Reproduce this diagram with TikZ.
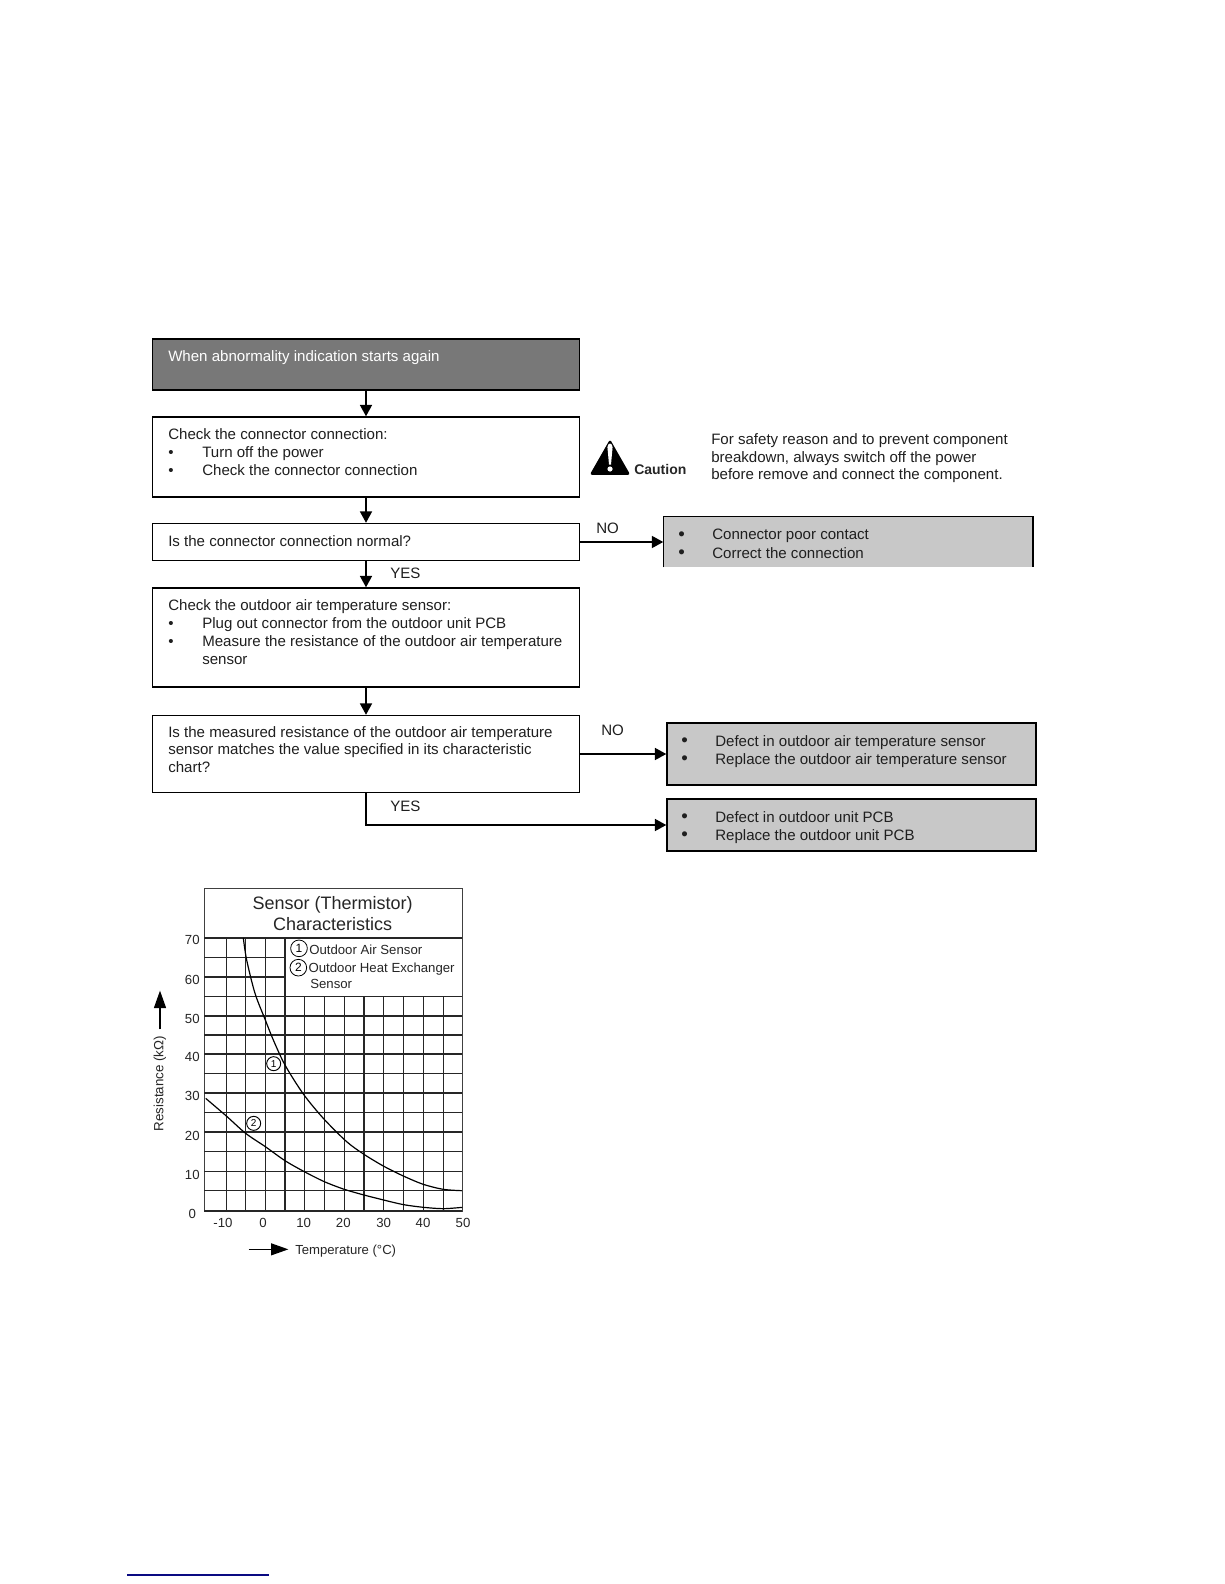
\documentclass[tikz,border=0pt]{standalone}
\usepackage{fontspec}
\setmainfont{Liberation Sans}
\usetikzlibrary{arrows.meta}
\newcommand{\bitem}[1]{\makebox[25.5pt][l]{\textbullet}#1}
\newcommand{\gitem}[1]{\makebox[25.5pt][l]{\fontsize{14}{13}\selectfont\raisebox{-0.6pt}{\textbullet}}#1}
\tikzset{
  boxline/.style={draw=black,line width=1.1pt,minimum width=#1*0.75pt,inner sep=0pt},
  whitebox/.style={boxline=427,fill=white},
  darkbox/.style={boxline=427,fill=boxdark},
  greybox/.style={boxline=369,fill=boxgrey},
  flowtext/.style={anchor=north west,inner sep=0pt,align=left,font=\fontsize{11.3}{13.5}\selectfont,text=black!88},
  flowarrow/.style={line width=1.15pt,-{Triangle[length=8.5pt,width=9pt]}},
  gridline/.style={line width=1.1pt,black!85},
  curve/.style={line width=0.9pt,black},
  charttext/.style={inner sep=0pt,font=\fontsize{9.9}{12}\selectfont,text=black!85},
  marker/.style={draw,circle,line width=0.6pt,inner sep=0pt,minimum size=#1,font=\fontsize{7.5}{9}\selectfont},
}
\definecolor{boxdark}{HTML}{787878}
\definecolor{boxgrey}{HTML}{C8C8C8}
\definecolor{navyline}{RGB}{10,10,130}
\begin{document}
\begin{tikzpicture}[x=0.75pt,y=-0.75pt]
\useasboundingbox (0,0) rectangle (1224,1584);
\fill[white] (0,0) rectangle (1224,1584);

% boxes
\node[darkbox,minimum height=38.25pt] (b1) at (366,364.5) {};
\node[whitebox,minimum height=60pt] (b2) at (366,457) {};
\node[whitebox,minimum height=27.75pt] (b3) at (366,542) {};
\node[whitebox,minimum height=74.25pt] (b4) at (366,637.5) {};
\node[whitebox,minimum height=57.75pt] (b5) at (366,754) {};
\node[fill=boxgrey,inner sep=0pt,minimum width=276.75pt,minimum height=37.5pt] (g1) at (848,542) {};
\draw[line width=1.1pt] (g1.south west) |- (g1.north east) -- (g1.south east);
\node[greybox,minimum height=46.5pt] (g2) at (851.5,754) {};
\node[greybox,minimum height=39pt] (g3) at (851.5,825) {};

% box texts
\node[flowtext,text=white] (t1) at (168,350) {When abnormality indication starts again};
\node[flowtext,font=\fontsize{11.3}{13.7}\selectfont] (t2) at (168,428) {Check the connector connection:\\\bitem{Turn off the power}\\\bitem{Check the connector connection}};
\node[flowtext] (t3) at (168,535) {Is the connector connection normal?};
\node[flowtext] (t4) at (168,599) {Check the outdoor air temperature sensor:\\\bitem{Plug out connector from the outdoor unit PCB}\\\bitem{Measure the resistance of the outdoor air temperature}\\\hspace*{25.5pt}sensor};
\node[flowtext,font=\fontsize{11.3}{13.1}\selectfont] (t5) at (168,726) {Is the measured resistance of the outdoor air temperature\\sensor matches the value specified in its characteristic\\chart?};
\node[flowtext,font=\fontsize{11.3}{13.8}\selectfont] (t6) at (678,529) {\gitem{Connector poor contact}\\\gitem{Correct the connection}};
\node[flowtext] (t7) at (681,735) {\gitem{Defect in outdoor air temperature sensor}\\\gitem{Replace the outdoor air temperature sensor}};
\node[flowtext] (t8) at (681,811) {\gitem{Defect in outdoor unit PCB}\\\gitem{Replace the outdoor unit PCB}};
\node[flowtext,font=\fontsize{11.3}{13.1}\selectfont] (t9) at (711,433.5) {For safety reason and to prevent component\\breakdown, always switch off the power\\before remove and connect the component.};

% flow labels
\node[flowtext] (yes1) at (390,568) {YES};
\node[flowtext] (yes2) at (390,801) {YES};
\node[flowtext] (no1) at (596,523) {NO};
\node[flowtext] (no2) at (601,725) {NO};

% connectors
\draw[flowarrow] (b1) -- (b2);
\draw[flowarrow] (b2) -- (b3);
\draw[flowarrow] (b3) -- (b4);
\draw[flowarrow] (b4) -- (b5);
\draw[flowarrow] (b3) -- (g1);
\draw[flowarrow] (b5) -- (g2);
\draw[flowarrow] (b5.south) |- (g3.west);

% caution
\fill[black,draw=black,line width=2pt,line join=round] (610,442) -- (628,473.5) -- (592,473.5) -- cycle;
\fill[white] (610,447.5) ellipse (2.6 and 4) ;
\fill[white] (607.6,449) -- (612.4,449) -- (611,464.5) -- (609,464.5) -- cycle;
\fill[white] (610,469) circle (2.6);
\node[flowtext,font=\bfseries\fontsize{10.5}{13}\selectfont,anchor=base west,text=black!85] (caution) at (634,474) {Caution};

% chart (coordinates are those of a 3x crop from 140,870)
\begin{scope}[shift={(140,870)},x=0.25pt,y=-0.25pt]
  \draw[line width=1pt,black!75] (193,55) rectangle (967,1023);
  \foreach \yy in {204,380,438,495,552,610,669,727,786,845,904,962}
    \draw[gridline] (193,\yy) -- (965,\yy);
  \foreach \yy in {263,321}
    \draw[gridline] (193,\yy) -- (438,\yy);
  \foreach \xx in {259,317,376,435}
    \draw[gridline] (\xx,204) -- (\xx,1023);
  \foreach \xx in {493,553,613,672,731,791,851,910}
    \draw[gridline] (\xx,380) -- (\xx,1023);
  \draw[gridline] (193,1023) -- (967,1023);
  \draw[curve] plot[smooth,tension=0.5] coordinates {(310,204)(320,270)(345,370)(376,450)(400,510)(435,585)(490,672)(550,745)(620,815)(672,853)(730,888)(790,918)(850,943)(910,958)(965,962)};
  \draw[curve] plot[smooth,tension=0.5] coordinates {(197,685)(259,738)(317,790)(376,830)(435,872)(493,905)(553,935)(613,958)(672,975)(731,990)(791,1004)(851,1012)(910,1016)(967,1012)};

  \node[charttext,font=\fontsize{13.5}{15}\selectfont] (title1) at (578,105) {Sensor (Thermistor)};
  \node[charttext,font=\fontsize{13.5}{15}\selectfont] (title2) at (578,162) {Characteristics};

  \node[marker=12.5pt,fill=white] (m1) at (477,235) {\fontsize{9}{9}\selectfont 1};
  \node[marker=12.5pt,fill=white] (m2) at (475,293) {\fontsize{9}{9}\selectfont 2};
  \node[charttext,anchor=west] (leg1) at (507,238) {Outdoor Air Sensor};
  \node[charttext,anchor=west] (leg2) at (505,297) {Outdoor Heat Exchanger};
  \node[charttext,anchor=west] (leg3) at (510,342) {Sensor};
  \node[marker=10.5pt,fill=white,line width=0.7pt] (c1) at (401,581) {1};
  \node[marker=10.5pt,fill=white,line width=0.7pt] (c2) at (341,760) {2};

  \foreach \v/\yy in {70/211,60/329,50/446,40/561,30/679,20/798,10/915,0/1033}
    \node[charttext] (ylab\v) at (157,\yy) {\v};
  \foreach \v/\xx in {-10/249,0/369,10/491,20/610,30/731,40/849,50/969}
    \node[charttext] (xlab\v) at (\xx,1058) {\v};

  \node[charttext,rotate=90,font=\fontsize{10}{12}\selectfont] (ylabel) at (60,641) {Resistance (kΩ)};
  \node[charttext,anchor=west,font=\fontsize{9.85}{12}\selectfont] (xlabel) at (465,1143) {Temperature (°C)};
  \coordinate (ua) at (60,478);
  \coordinate (ub) at (60,362);
  \coordinate (ra) at (326,1138);
  \coordinate (rb) at (445,1138);
  \draw[line width=0.9pt,-{Triangle[length=13pt,width=9pt]}] (ua) -- (ub);
  \draw[line width=0.9pt,-{Triangle[length=13pt,width=9pt]}] (ra) -- (rb);
\end{scope}

% footer rule
\coordinate (fa) at (127,1575);
\coordinate (fb) at (269,1575);
\draw[navyline,line width=1pt] (fa) -- (fb);
\end{tikzpicture}
\end{document}
